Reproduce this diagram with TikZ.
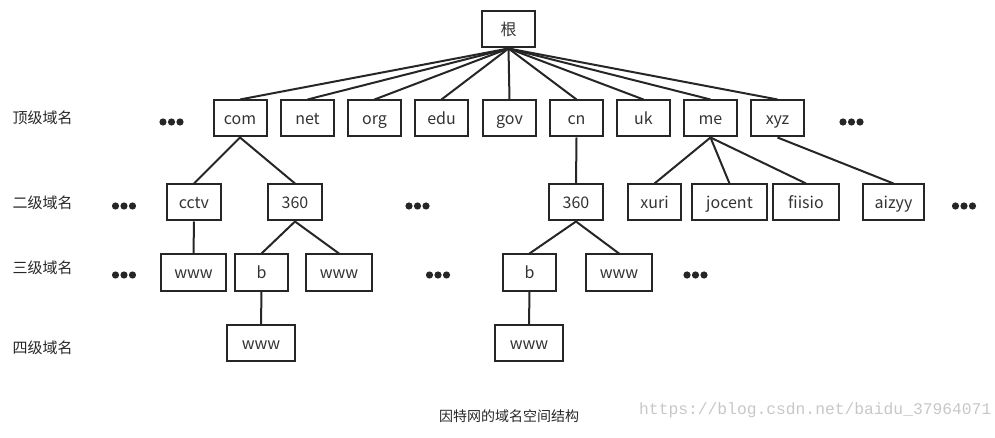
\documentclass[tikz,border=0pt]{standalone}
\usepackage{fontspec}
\setmainfont{Noto Sans CJK SC}
\newfontfamily\urlfont{Liberation Mono}
\begin{document}
\begin{tikzpicture}[x=1pt, y=-1pt,
        box/.style={draw=black!85, line width=2pt, minimum width=53pt, minimum height=36pt, inner sep=0pt, text height=13.5pt, text depth=1.5pt, text=black!80, font=\fontsize{16}{16}\selectfont},
        link/.style={draw=black!85, line width=2pt},
        level/.style={anchor=west, font=\fontsize{15}{15}\selectfont, text=black!85},
        dots/.pic={\foreach \k in {-1,0,1} \fill[black!85] (\k*8.5,0) circle (3.6);}]
    \useasboundingbox (0,0) rectangle (995,438);
    % root and top level
    \node[box] (root) at (508.5, 29.5) {根};
    \node[box] (com) at (240, 118.5) {com};
    \node[box] (net) at (307.5, 118.5) {net};
    \node[box] (org) at (374.5, 118.5) {org};
    \node[box] (edu) at (441.5, 118.5) {edu};
    \node[box] (gov) at (509.5, 118.5) {gov};
    \node[box] (cn) at (576.5, 118.5) {cn};
    \node[box] (uk) at (643.5, 118.5) {uk};
    \node[box] (me) at (710.5, 118.5) {me};
    \node[box] (xyz) at (777.5, 118.5) {xyz};
    \foreach \t in {com, net, org, edu, gov, cn, uk, me, xyz}
        \draw[link] (root.south) -- (\t.north);
    % second level
    \node[box, minimum width=54pt] (cctv) at (194, 202.5) {cctv};
    \node[box, minimum width=54pt] (comsub) at (295, 202.5) {360};
    \node[box, minimum width=54pt] (cnsub) at (576, 202.5) {360};
    \node[box] (xuri) at (654.5, 202.5) {xuri};
    \node[box, minimum width=75pt] (jocent) at (729.5, 202.5) {jocent};
    \node[box, minimum width=66pt] (fiisio) at (806, 202.5) {fiisio};
    \node[box, minimum width=61pt] (aizyy) at (893.5, 202.5) {aizyy};
    \draw[link] (com.south) -- (cctv.north);
    \draw[link] (com.south) -- (comsub.north);
    \draw[link] (cn.south) -- (cnsub.north);
    \draw[link] (me.south) -- (xuri.north);
    \draw[link] (me.south) -- (jocent.north);
    \draw[link] (me.south) -- (fiisio.north);
    \draw[link] (xyz.south) -- (aizyy.north);
    % third level
    \node[box, minimum width=65pt] (cctvwww) at (193.5, 272.5) {www};
    \node[box] (comb) at (261.5, 272.5) {b};
    \node[box, minimum width=66pt] (comwww) at (339, 272.5) {www};
    \node[box] (cnb) at (529.5, 272.5) {b};
    \node[box, minimum width=66pt] (cnwww) at (619, 272.5) {www};
    \draw[link] (cctv.south) -- (cctvwww.north);
    \draw[link] (comsub.south) -- (comb.north);
    \draw[link] (comsub.south) -- (comwww.north);
    \draw[link] (cnsub.south) -- (cnb.north);
    \draw[link] (cnsub.south) -- (cnwww.north);
    % fourth level
    \node[box, minimum width=68pt] (combwww) at (261, 343) {www};
    \node[box, minimum width=68pt] (cnbwww) at (529, 343) {www};
    \draw[link] (comb.south) -- (combwww.north);
    \draw[link] (cnb.south) -- (cnbwww.north);
    % ellipses
    \pic at (171.5, 122) {dots};
    \pic at (851.5, 122) {dots};
    \pic at (124, 206) {dots};
    \pic at (417.5, 206) {dots};
    \pic at (964, 206) {dots};
    \pic at (124, 275) {dots};
    \pic at (438, 275) {dots};
    \pic at (695.5, 275) {dots};
    % level names
    \node[level] (lv1) at (9, 118) {顶级域名};
    \node[level] (lv2) at (9, 203) {二级域名};
    \node[level] (lv3) at (9, 268) {三级域名};
    \node[level] (lv4) at (9, 348) {四级域名};
    \node[font=\fontsize{14}{14}\selectfont, text=black!85] (caption) at (509, 416) {因特网的域名空间结构};
    \node[anchor=west, inner sep=0pt, font=\urlfont\fontsize{16.3}{16.3}\selectfont, text=black!22] (mark) at (639, 410) {https://blog.csdn.net/baidu\_37964071};
\end{tikzpicture}
\end{document}
